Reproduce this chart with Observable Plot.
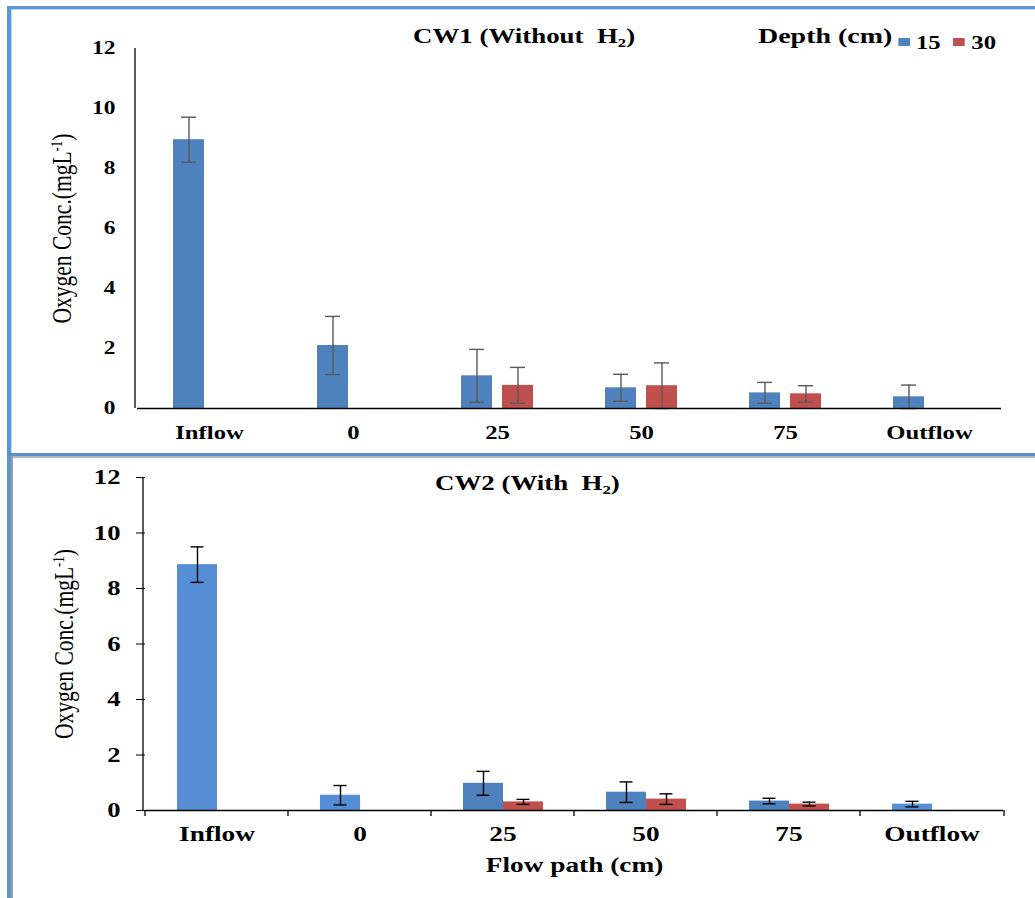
<!DOCTYPE html>
<html>
<head>
<meta charset="utf-8">
<script src="https://cdn.jsdelivr.net/npm/d3@7"></script>
<script src="https://cdn.jsdelivr.net/npm/@observablehq/plot@0.6"></script>
<style>
html,body{margin:0;padding:0;background:#fff;}
#wrap{position:relative;width:1035px;height:898px;overflow:hidden;background:#fff;}
#wrap svg.chart{position:absolute;left:0;font-family:"Liberation Serif",serif !important;}
#wrap svg.chart text{font-family:"Liberation Serif",serif !important;}
.ttl{position:absolute;font-family:"Liberation Serif",serif;font-weight:bold;font-size:21px;line-height:21px;white-space:nowrap;transform:scaleX(1.28);transform-origin:0 0;color:#000;z-index:3}
.ttl sub{font-size:0.62em;vertical-align:-0.28em;line-height:0}
#leg{position:absolute;left:758px;top:26px;display:flex;align-items:baseline;font-family:"Liberation Serif",serif;font-weight:bold;font-size:21.5px;line-height:21px;transform:scaleX(1.3);transform-origin:0 0;white-space:nowrap;z-index:3;color:#000}
#leg .dep-swatches{font-family:"Liberation Serif",serif;font-weight:bold;font-size:19px;margin:0 0 0 4.6px;min-height:0;display:flex;align-items:center;position:relative;top:3px}
#leg .dep-swatch{margin-right:10px;display:inline-flex;align-items:center}
#leg .dep-swatch > svg{margin-right:4.6px}
.bd{position:absolute;z-index:4;pointer-events:none}
</style>
</head>
<body>
<div id="wrap">
  <div class="bd" style="left:7px;top:6px;width:1100px;height:3px;background:#5b97d6"></div>
  <div class="bd" style="left:7px;top:6px;width:4px;height:450px;background:#5b97d6"></div>
  <div class="bd" style="left:11px;top:9px;width:1100px;height:1px;background:#c3d8f0"></div>
  <div class="bd" style="left:11px;top:9px;width:1px;height:444px;background:#c3d8f0"></div>
  <div class="bd" style="left:7px;top:453px;width:1100px;height:3px;background:#5a8dcc"></div>
  <div class="bd" style="left:11px;top:456px;width:1100px;height:2px;background:#b4b4b4"></div>
  <div class="bd" style="left:7px;top:456px;width:4px;height:442px;background:#5b97d6"></div>
  <div class="bd" style="left:11px;top:456px;width:2px;height:442px;background:#9c9c9c"></div>
  <div class="ttl" style="left:413px;top:26px">CW1 (Without&nbsp; H<sub>2</sub>)</div>
  <div class="ttl" style="left:435px;top:473px">CW2 (With&nbsp; H<sub>2</sub>)</div>
  <div id="leg"><span>Depth (cm)</span></div>
</div>
<script>
// ---- data ----
const categories = ["Inflow", "0", "25", "50", "75", "Outflow"];
const depths = ["15", "30"];
const yTicks = [0, 2, 4, 6, 8, 10, 12];

const cw1Depth15    = [8.96, 2.10, 1.09, 0.69, 0.52, 0.39];
const cw1Depth15Err = [0.75, 0.97, 0.88, 0.45, 0.35, 0.39];
const cw1Depth30    = [null, null, 0.77, 0.76, 0.49, null];
const cw1Depth30Err = [null, null, 0.60, 0.76, 0.27, null];

const cw2Depth15    = [8.86, 0.55, 0.98, 0.66, 0.34, 0.23];
const cw2Depth15Err = [0.64, 0.35, 0.43, 0.37, 0.10, 0.10];
const cw2Depth30    = [null, null, 0.31, 0.41, 0.23, null];
const cw2Depth30Err = [null, null, 0.09, 0.19, 0.07, null];

const yLabel = "Oxygen Conc.(mgL-1)";
const xLabel = "Flow path (cm)";

// ---- styles ----
const BLUE = "#4f81bd", BLUE_LIGHT = "#558ed5", RED = "#c0504d";
const lightCats = ["Inflow", "0", "Outflow"];
const SERIF = '"Liberation Serif", serif';

function rows(v15, e15, v30, e30) {
  const out = [];
  categories.forEach((c, i) => {
    if (v15[i] != null) out.push({cat: c, depth: "15", value: v15[i], err: e15[i]});
    if (v30[i] != null) out.push({cat: c, depth: "30", value: v30[i], err: e30[i]});
  });
  return out;
}

function panel(cfg) {
  const data = rows(cfg.v15, cfg.e15, cfg.v30, cfg.e30);
  const lo = d => Math.max(0, d.value - d.err);
  const hi = d => d.value + d.err;
  const errOpts = {fx: "cat", x: "depth", stroke: cfg.errColor, strokeWidth: 1.4};
  return Plot.plot({
    width: 1035, height: cfg.height,
    marginLeft: cfg.ml, marginRight: cfg.mr, marginTop: cfg.mt, marginBottom: cfg.mb,
    style: {fontFamily: SERIF, fontWeight: "bold", fontSize: cfg.yFont + "px", background: "transparent", overflow: "visible", color: "#000"},
    fx: {domain: categories, padding: 0, axis: "bottom", label: cfg.xLabel, labelAnchor: "center", labelOffset: cfg.xLabelOffset, tickSize: 0, tickPadding: cfg.xTickPad},
    x: {domain: depths, axis: null, paddingInner: cfg.pi, paddingOuter: cfg.po},
    y: {domain: [0, 12], ticks: yTicks, tickSize: cfg.yTickSize, tickPadding: cfg.yTickPad, label: yLabel, labelAnchor: "center", labelOffset: cfg.yLabelOffset},
    color: {type: "identity"},
    marks: [
      Plot.barY(data, {fx: "cat", x: "depth", y: "value", fill: cfg.fill}),
      Plot.ruleX(data, {...errOpts, y1: lo, y2: hi}),
      Plot.tickY(data, {...errOpts, y: lo, insetLeft: cfg.capInset, insetRight: cfg.capInset}),
      Plot.tickY(data, {...errOpts, y: hi, insetLeft: cfg.capInset, insetRight: cfg.capInset}),
      Plot.ruleY([0], {stroke: "#000", strokeWidth: 1.3})
    ]
  });
}

function finish(plot, cfg) {
  plot.classList.add("chart");
  plot.style.top = cfg.top + "px";
  plot.setAttribute("font-family", SERIF);
  document.getElementById("wrap").appendChild(plot);
  const svg = d3.select(plot);
  svg.selectAll("text").attr("font-family", SERIF).attr("font-weight", "bold");
  svg.selectAll('g[aria-label="fx-axis tick label"] text').attr("font-size", cfg.xFont);
  svg.selectAll('g[aria-label="fx-axis label"] text').attr("font-size", cfg.xFont);
  // axis lines from the plot's own scales
  const fx = plot.scale("fx"), y = plot.scale("y");
  const g = svg.append("g").attr("stroke", "#000").attr("stroke-width", 1.3);
  const x0 = fx.range[0], x1 = fx.range[1];
  g.append("line").attr("x1", x0).attr("x2", x0).attr("y1", y.apply(12)).attr("y2", y.apply(0));
  if (cfg.boundaryTicks) {
    fx.domain.map(d => fx.apply(d)).concat([x1]).forEach(bx => {
      g.append("line").attr("x1", bx).attr("x2", bx).attr("y1", y.apply(0)).attr("y2", y.apply(0) + cfg.boundaryTicks);
    });
  }
  // y label with superscript, taller glyphs
  const lab = svg.select('g[aria-label="y-axis label"] text');
  lab.attr("font-weight", "normal").attr("font-size", 28).text(null);
  lab.append("tspan").text("Oxygen Conc.(mgL");
  lab.append("tspan").attr("baseline-shift", "super").attr("font-size", "0.6em").text("-1");
  lab.append("tspan").text(")");
  // horizontally stretched type, as in the picture
  svg.selectAll("text").each(function() {
    if (this === lab.node()) return;
    const len = this.getComputedTextLength();
    if (len > 0) { this.setAttribute("textLength", len * 1.3); this.setAttribute("lengthAdjust", "spacingAndGlyphs"); }
  });
  lab.attr("textLength", 190).attr("lengthAdjust", "spacingAndGlyphs");
}

const top1 = {
  top: 0, height: 453, ml: 135, mr: 32, mt: 48, mb: 45,
  v15: cw1Depth15, e15: cw1Depth15Err, v30: cw1Depth30, e30: cw1Depth30Err,
  fill: d => d.depth === "30" ? RED : BLUE, errColor: "#595959",
  pi: 0.238, po: 0.842, capInset: 8,
  yFont: 18, xFont: 19, yTickSize: 0, yTickPad: 22, xTickPad: 17, yLabelOffset: 86,
  xLabel: null, xLabelOffset: 0, boundaryTicks: 0
};
const bot2 = {
  top: 453, height: 445, ml: 143, mr: 31, mt: 24, mb: 88,
  v15: cw2Depth15, e15: cw2Depth15Err, v30: cw2Depth30, e30: cw2Depth30Err,
  fill: d => d.depth === "30" ? RED : (lightCats.includes(d.cat) ? BLUE_LIGHT : BLUE), errColor: "#000",
  pi: 0, po: 0.75, capInset: 13.5,
  yFont: 20.5, xFont: 21, yTickSize: 9, yTickPad: 16, xTickPad: 16, yLabelOffset: 92,
  xLabel: xLabel, xLabelOffset: 61, boundaryTicks: 6
};

const p1 = panel(top1); finish(p1, top1);
const p2 = panel(bot2); finish(p2, bot2);

// legend
const leg = Plot.legend({color: {domain: depths, range: [BLUE, RED]}, legend: "swatches", swatchWidth: 9, swatchHeight: 8, className: "dep"});
document.getElementById("leg").appendChild(leg);
</script>
</body>
</html>
